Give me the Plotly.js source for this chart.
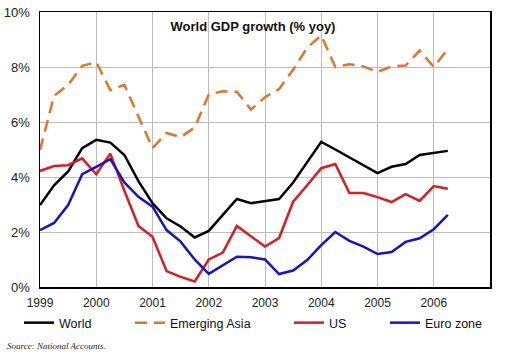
<!DOCTYPE html>
<html>
<head>
<meta charset="utf-8">
<script src="https://cdn.plot.ly/plotly-3.0.1.min.js"></script>
<style>html,body{margin:0;padding:0;background:#fff;}#chart{width:512px;height:360px;}</style>
</head>
<body>
<div id="chart"></div>
<script>
// Quarterly periods 1999Q1 .. 2006Q2
const quarters = [];
for (let y = 1999; y <= 2006; y++) { for (let q = 0; q < 4; q++) { quarters.push(y + q * 0.25); } }
const periods = quarters.slice(0, 30);

const world = [2.98, 3.7, 4.2, 5.05, 5.35, 5.25, 4.8, 3.85, 3.05, 2.5, 2.2, 1.8, 2.04, 2.6, 3.2, 3.05, 3.12, 3.2, 3.8, 4.55, 5.28, 5.0, 4.72, 4.43, 4.14, 4.37, 4.47, 4.8, 4.87, 4.95];
const emergingAsia = [4.98, 6.95, 7.35, 8.04, 8.18, 7.16, 7.35, 6.2, 5.05, 5.6, 5.45, 5.8, 7.0, 7.12, 7.1, 6.45, 6.9, 7.2, 7.9, 8.7, 9.15, 8.0, 8.1, 8.02, 7.82, 8.02, 8.05, 8.6, 8.0, 8.65];
const us = [4.22, 4.4, 4.43, 4.68, 4.1, 4.85, 3.5, 2.22, 1.83, 0.58, 0.37, 0.2, 1.0, 1.25, 2.22, 1.85, 1.47, 1.78, 3.1, 3.7, 4.32, 4.47, 3.42, 3.42, 3.27, 3.09, 3.38, 3.13, 3.67, 3.57];
const euroZone = [2.07, 2.33, 2.98, 4.1, 4.37, 4.65, 3.8, 3.28, 2.92, 2.07, 1.65, 1.0, 0.48, 0.8, 1.1, 1.08, 1.0, 0.47, 0.6, 0.98, 1.52, 2.0, 1.68, 1.47, 1.2, 1.27, 1.64, 1.77, 2.1, 2.62];

const yearTicks = [1999, 2000, 2001, 2002, 2003, 2004, 2005, 2006];
const yearLabels = ["1999", "2000", "2001", "2002", "2003", "2004", "2005", "2006"];
const yTicks = [0, 2, 4, 6, 8, 10];
const yLabels = ["0%", "2%", "4%", "6%", "8%", "10%"];
const seriesNames = ["World", "Emerging Asia", "US", "Euro zone"];

const FONT = "Liberation Sans, Arial, sans-serif";

const traces = [
  {x: periods, y: world, name: seriesNames[0], mode: "lines", line: {color: "#000000", width: 2.5}, legend: "legend"},
  {x: periods, y: emergingAsia, name: seriesNames[1], mode: "lines", line: {color: "#E2752E", width: 2.5, dash: "12px,7px"}, legend: "legend2"},
  {x: periods, y: us, name: seriesNames[2], mode: "lines", line: {color: "#DD1C22", width: 2.5}, legend: "legend3"},
  {x: periods, y: euroZone, name: seriesNames[3], mode: "lines", line: {color: "#1414C8", width: 2.5}, legend: "legend4"}
];

function leg(xpx) {
  return {orientation: "h", x: (xpx - 40) / 450, xanchor: "left", y: -0.131, yanchor: "middle",
          font: {family: FONT, size: 12.5, color: "#111"}, bgcolor: "rgba(0,0,0,0)", itemwidth: 30,
          tracegroupgap: 0, borderwidth: 0};
}

const layout = {
  width: 512, height: 360,
  margin: {l: 40, r: 22, t: 12, b: 73},
  paper_bgcolor: "#ffffff", plot_bgcolor: "#ffffff",
  title: {text: "<b>World GDP growth (% yoy)</b>", font: {family: FONT, size: 13, color: "#111"},
          x: 253 / 512, xanchor: "center", xref: "container", y: 1 - 26 / 360, yanchor: "middle"},
  xaxis: {range: [1999, 2007], tickvals: yearTicks, ticktext: yearLabels, showgrid: true, gridcolor: "#bdbdbd", gridwidth: 1,
          showline: true, mirror: true, linecolor: "#000", linewidth: 1.5, zeroline: false, ticks: "",
          ticklabelstandoff: 4, tickfont: {family: FONT, size: 12, color: "#222"}, fixedrange: true},
  yaxis: {range: [0, 10], tickvals: yTicks, ticktext: yLabels, showgrid: true, gridcolor: "#bdbdbd", gridwidth: 1,
          showline: true, mirror: true, linecolor: "#000", linewidth: 1.5, zeroline: false, ticks: "",
          ticklabelstandoff: 6, tickfont: {family: FONT, size: 13, color: "#222"}, fixedrange: true},
  showlegend: true,
  legend: leg(19), legend2: leg(130), legend3: leg(289), legend4: leg(385),
  annotations: [{text: "<i>Source: National Accounts.</i>", xref: "paper", yref: "paper", x: (5 - 40) / 450, y: (287 - 346) / 275,
                 xanchor: "left", yanchor: "middle", showarrow: false, font: {family: "Liberation Serif, Times New Roman, serif", size: 9, color: "#222"}}]
};

Plotly.newPlot("chart", traces, layout, {displayModeBar: false, staticPlot: true});
</script>
</body>
</html>
